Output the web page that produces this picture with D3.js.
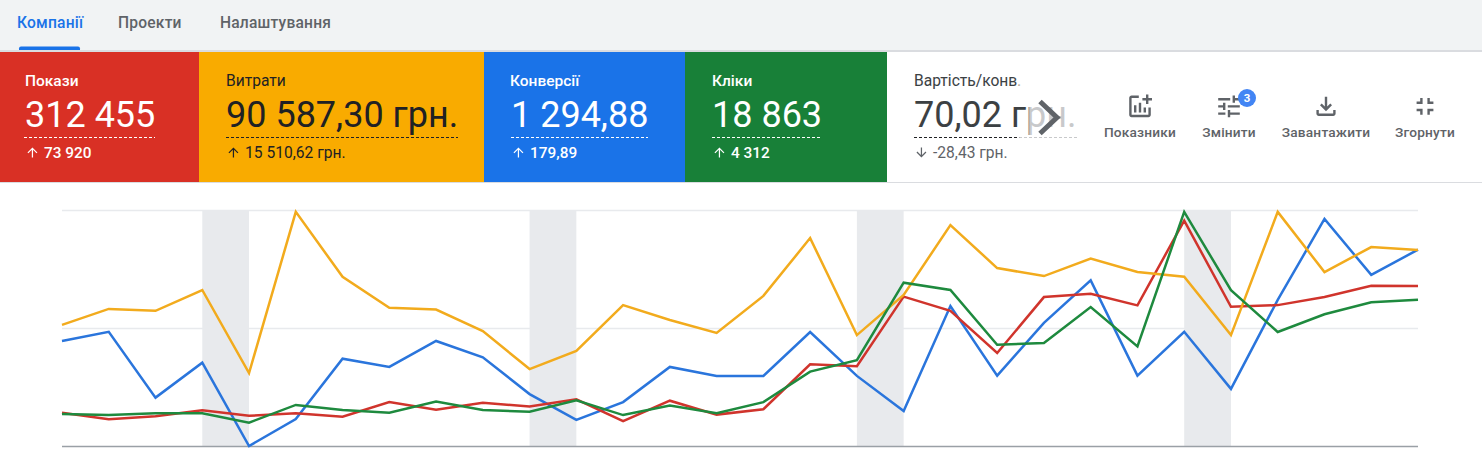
<!DOCTYPE html>
<html lang="uk">
<head>
<meta charset="utf-8">
<title>Кампанії</title>
<script src="https://cdn.jsdelivr.net/npm/d3@7"></script>
<style>
  html, body { margin: 0; padding: 0; background: #fff; overflow: hidden; }
  svg { display: block; font-family: Roboto, sans-serif; }
</style>
</head>
<body>
<div id="chart"></div>
<script>
// values, on a 0-100 scale of the plot height
const days = d3.range(30);
const weekendStarts = [3, 10, 17, 24];
const costs = [51.3, 58.1, 57.3, 66.1, 30.9, 99.2, 71.7, 58.6, 57.8, 48.7, 32.6, 40.3, 59.7, 53.4, 47.9, 63.6, 88.1, 47.0, 64.0, 93.6, 75.4, 72.0, 79.4, 73.7, 71.7, 47.0, 99.2, 73.7, 84.3, 83.1];
const conversions = [44.5, 48.4, 20.5, 35.3, 0, 11.4, 37.0, 33.5, 44.5, 37.6, 22.0, 11.1, 18.6, 33.5, 29.7, 29.7, 48.3, 29.7, 14.8, 59.3, 29.8, 52.2, 70.2, 29.8, 48.4, 24.2, 61.9, 96.2, 72.5, 83.2];
const impressions = [14.1, 11.3, 12.6, 15.1, 12.8, 13.9, 12.4, 18.6, 15.4, 18.3, 16.7, 19.8, 10.5, 19.2, 13.3, 15.6, 34.6, 33.8, 63.3, 57.3, 39.4, 63.1, 64.5, 59.6, 95.5, 59.0, 59.7, 63.1, 67.9, 67.8];
const clicks = [13.6, 13.1, 13.9, 13.9, 9.9, 17.4, 15.3, 14.1, 18.8, 15.3, 14.5, 19.4, 13.1, 17.2, 13.9, 18.6, 31.5, 36.4, 69.2, 66.1, 42.9, 43.6, 58.9, 42.2, 99.2, 66.0, 48.3, 55.8, 60.9, 62.0];
const gridTicks = [0, 50, 100];

const tabNames = ["Компанії", "Проекти", "Налаштування"];
const cardTitles = ["Покази", "Витрати", "Конверсії", "Кліки", "Вартість/конв."];
const cardValues = ["312 455", "90 587,30 грн.", "1 294,88", "18 863", "70,02 грн."];
const cardDeltas = ["73 920", "15 510,62 грн.", "179,89", "4 312", "-28,43 грн."];
const toolNames = ["Показники", "Змінити", "Завантажити", "Згорнути"];

const width = 1482, height = 457;
const margin = { top: 210, right: 64, bottom: 11, left: 62 };

const svg = d3.select("#chart").append("svg")
  .attr("width", width)
  .attr("height", height);

// the last card fades out under the chevron, coordinates are local to the card
function addFade(id, from, to, dark) {
  const g = svg.append("defs").append("linearGradient")
    .attr("id", id)
    .attr("gradientUnits", "userSpaceOnUse")
    .attr("x1", from).attr("x2", to).attr("y1", 0).attr("y2", 0);
  g.append("stop").attr("offset", 0).attr("stop-color", dark);
  g.append("stop").attr("offset", 1).attr("stop-color", "#c8c9cb");
}
addFade("fade", 140, 143, "#3c4043");
addFade("fadeTitle", 130, 133, "#3c4043");
addFade("fadeLine", 130, 133, "#202124");

// top tab bar
svg.append("rect").attr("width", width).attr("height", 51).attr("fill", "#f1f3f4");
svg.append("rect").attr("y", 50).attr("width", width).attr("height", 2).attr("fill", "#dadce0");
const tabX = [17, 118, 220];
svg.selectAll("text.tab")
  .data(tabNames)
  .enter().append("text")
  .attr("class", "tab")
  .attr("x", (d, i) => tabX[i])
  .attr("y", 28)
  .attr("font-size", 15.6)
  .attr("font-weight", 500)
  .attr("letter-spacing", 0.2)
  .attr("fill", (d, i) => i == 0 ? "#1a73e8" : "#5f6368")
  .text(d => d);
svg.append("path")
  .attr("d", "M19 50v-1.5a2 2 0 0 1 2-2h57a2 2 0 0 1 2 2V50z")
  .attr("fill", "#1a73e8");

// score cards
const cardX = [0, 199, 484, 685, 887];
const cardW = [199, 285, 201, 202, 595];
const cardFill = ["#d93025", "#f9ab00", "#1a73e8", "#188038", "#ffffff"];
const cardInk = ["#ffffff", "#202124", "#ffffff", "#ffffff", "#3c4043"];
const textLeft = [25, 27, 27, 27, 27];
const underlineLeft = [24, 27, 27, 27, 27];
const underlineW = [131, 232, 137, 110, 163];
const upArrow = "M4 12l1.41 1.41L11 7.83V20h2V7.83l5.58 5.59L20 12l-8-8-8 8z";
const downArrow = "M20 12l-1.41-1.41L13 16.17V4h-2v12.17l-5.58-5.59L4 12l8 8 8-8z";
const isWhiteInk = i => cardInk[i] == "#ffffff";

const cards = svg.selectAll("g.card")
  .data(cardTitles)
  .enter().append("g")
  .attr("class", "card")
  .attr("transform", (d, i) => "translate(" + cardX[i] + ",52)");
cards.append("rect")
  .attr("width", (d, i) => cardW[i])
  .attr("height", 130)
  .attr("fill", (d, i) => cardFill[i]);
cards.append("text")
  .attr("x", (d, i) => textLeft[i] - (i == 2 ? 1 : 0))
  .attr("y", 34)
  .attr("font-size", (d, i) => isWhiteInk(i) ? 15.5 : 15.6)
  .attr("font-weight", (d, i) => isWhiteInk(i) ? 500 : 400)
  .attr("fill", (d, i) => i == 4 ? "url(#fadeTitle)" : cardInk[i])
  .text(d => d);
cards.append("text")
  .attr("x", (d, i) => textLeft[i])
  .attr("y", 75)
  .attr("font-size", 36)
  .attr("fill", (d, i) => i == 4 ? "url(#fade)" : cardInk[i])
  .text((d, i) => cardValues[i]);
cards.append("line")
  .attr("x1", (d, i) => underlineLeft[i])
  .attr("x2", (d, i) => underlineLeft[i] + underlineW[i])
  .attr("y1", 85.5).attr("y2", 85.5)
  .attr("stroke", (d, i) => i == 4 ? "url(#fadeLine)" : cardInk[i])
  .attr("stroke-width", 1)
  .attr("stroke-dasharray", "3 2");
cards.append("path")
  .attr("d", (d, i) => i == 4 ? downArrow : upArrow)
  .attr("transform", (d, i) => "translate(" + textLeft[i] + ",93) scale(0.62)")
  .attr("fill", (d, i) => i == 4 ? "#5f6368" : cardInk[i]);
cards.append("text")
  .attr("x", (d, i) => textLeft[i] + 19)
  .attr("y", 106)
  .attr("font-size", (d, i) => isWhiteInk(i) ? 15.4 : 15.6)
  .attr("font-weight", (d, i) => isWhiteInk(i) ? 500 : 400)
  .attr("fill", (d, i) => i == 4 ? "#5f6368" : cardInk[i])
  .text((d, i) => cardDeltas[i]);

svg.append("rect").attr("y", 182).attr("width", width).attr("height", 1).attr("fill", "#dadce0");

// "next" chevron over the faded value
svg.append("path")
  .attr("d", "M1040 101.5L1057 117.5L1040 133.5")
  .attr("fill", "none")
  .attr("stroke", "#5f6368")
  .attr("stroke-width", 5);

// tool buttons
const toolX = [1140, 1229, 1326, 1425];
const toolIcons = [
  "M22 5v2h-3v3h-2V7h-3V5h3V2h2v3h3zm-3 14H5V5h6V3H5c-1.1 0-2 .9-2 2v14c0 1.1.9 2 2 2h14c1.1 0 2-.9 2-2v-6h-2v6zm-4-6v4h2v-4h-2zm-4 4h2V9h-2v8zm-2 0v-6H7v6h2z",
  "M3 17v2h6v-2H3zM3 5v2h10V5H3zm10 16v-2h8v-2h-8v-2h-2v6h2zM7 9v2H3v2h4v2h2V9H7zm14 4v-2H11v2h10zm-6-4h2V7h4V5h-4V3h-2v6z",
  "M18 15v3H6v-3H4v3c0 1.1.9 2 2 2h12c1.1 0 2-.9 2-2v-3h-2zm-1-4l-1.41-1.41L13 12.17V4h-2v8.17L8.41 9.59 7 11l5 5 5-5z",
  "M5 16h3v3h2v-5H5v2zm3-8H5v2h5V5H8v3zm6 11h2v-3h3v-2h-5v5zm2-11V5h-2v5h5V8h-3z"
];
const tools = svg.selectAll("g.tool")
  .data(toolNames)
  .enter().append("g")
  .attr("class", "tool")
  .attr("transform", (d, i) => "translate(" + toolX[i] + ",0)");
tools.append("path")
  .attr("d", (d, i) => toolIcons[i])
  .attr("transform", "translate(-14.4,92) scale(1.2)")
  .attr("fill", "#5f6368");
tools.append("text")
  .attr("y", 137)
  .attr("text-anchor", "middle")
  .attr("font-size", 13.7)
  .attr("font-weight", 500)
  .attr("letter-spacing", 0.2)
  .attr("fill", "#5f6368")
  .text(d => d);
svg.append("circle").attr("cx", 1247).attr("cy", 98).attr("r", 9).attr("fill", "#4285f4");
svg.append("text")
  .attr("x", 1247).attr("y", 102)
  .attr("text-anchor", "middle")
  .attr("font-size", 11.5)
  .attr("font-weight", 700)
  .attr("fill", "#fff")
  .text("3");

// line chart
const x = d3.scaleLinear()
  .domain([0, days.length - 1])
  .range([margin.left, width - margin.right]);
const y = d3.scaleLinear()
  .domain([0, 100])
  .range([height - margin.bottom, margin.top]);

svg.selectAll("rect.weekend")
  .data(weekendStarts)
  .enter().append("rect")
  .attr("class", "weekend")
  .attr("x", d => x(d))
  .attr("y", y(100))
  .attr("width", d => x(d + 1) - x(d))
  .attr("height", y(0) - y(100))
  .attr("fill", "#e8eaed");

const grid = svg.append("g")
  .attr("transform", "translate(" + margin.left + ",0)")
  .call(d3.axisRight(y)
    .tickValues(gridTicks)
    .tickSize(width - margin.left - margin.right)
    .tickFormat(""));
grid.select(".domain").remove();
grid.selectAll("line")
  .attr("stroke", d => d == 0 ? "#9aa0a6" : "#e8eaed")
  .attr("stroke-width", 1.5);

const line = d3.line()
  .x((d, i) => x(days[i]))
  .y(d => y(d));

const series = [
  { values: conversions, color: "#2a75dc" },
  { values: impressions, color: "#d0342c" },
  { values: costs, color: "#f2ab1d" },
  { values: clicks, color: "#1e8a3e" }
];
svg.selectAll("path.series")
  .data(series)
  .enter().append("path")
  .attr("class", "series")
  .attr("d", d => line(d.values))
  .attr("fill", "none")
  .attr("stroke", d => d.color)
  .attr("stroke-width", 2.5);
</script>
</body>
</html>
